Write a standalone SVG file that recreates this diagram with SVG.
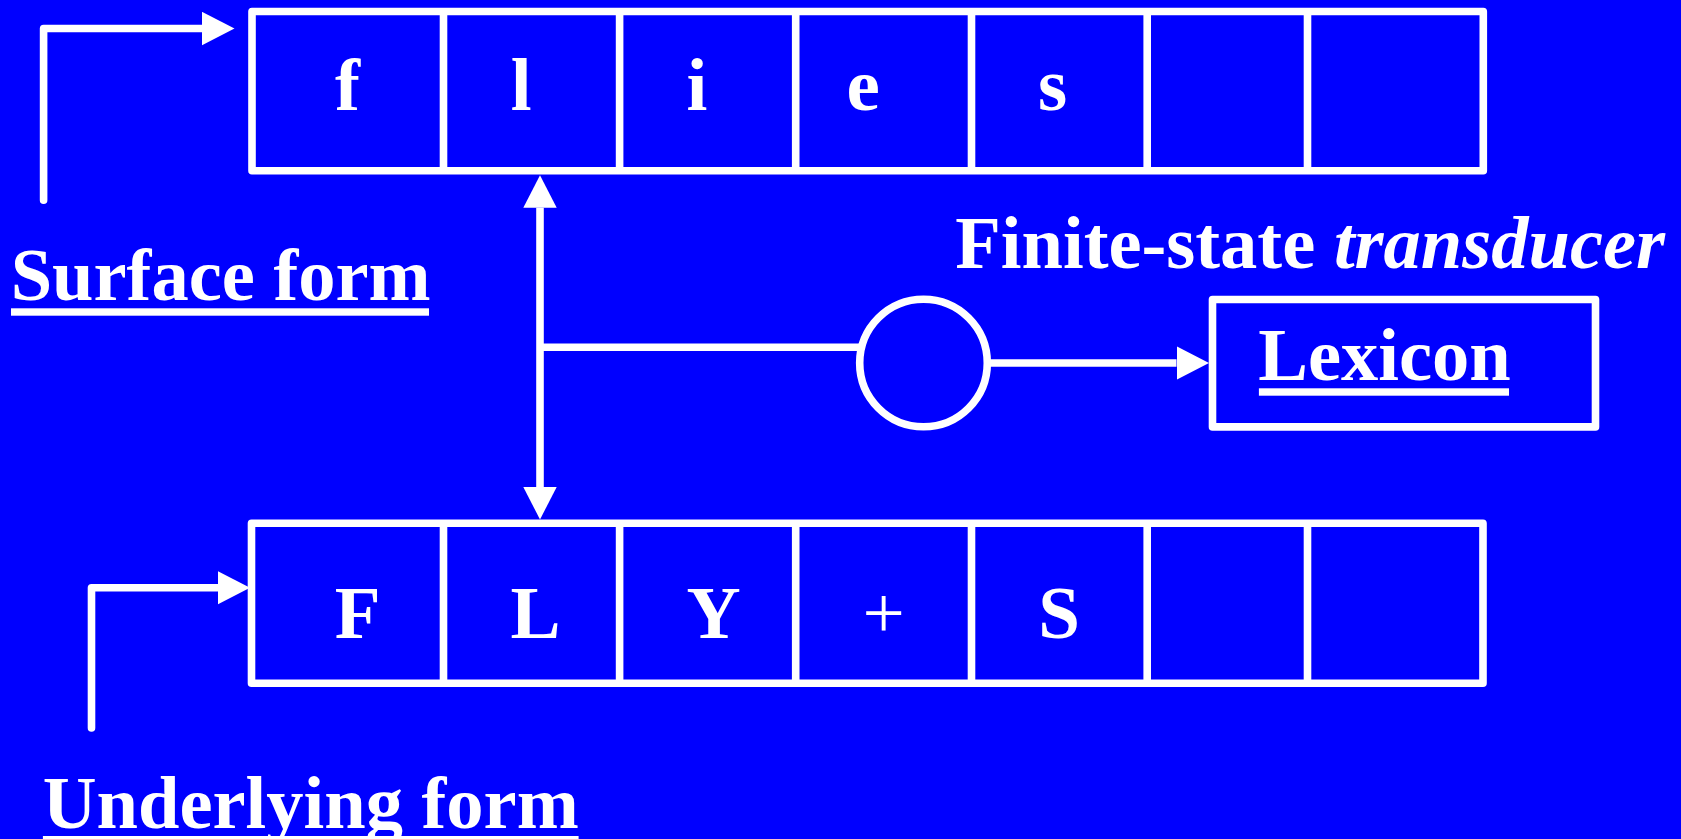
<svg xmlns="http://www.w3.org/2000/svg" width="1681" height="839" viewBox="0 0 1681 839">
  <style>
    .frame { fill: none; stroke: #ffffff; stroke-width: 7.6; stroke-linejoin: round; }
    .div { stroke: #ffffff; stroke-width: 7.6; }
    .wire { fill: none; stroke: #ffffff; stroke-width: 7.6; stroke-linejoin: round; }
    .cell { font-family: "Liberation Serif", "Times New Roman", serif; font-size: 75px; font-weight: bold; fill: #ffffff; }
    .plain { font-family: "Liberation Serif", "Times New Roman", serif; font-size: 75px; font-weight: normal; fill: #ffffff; }
    .label { font-family: "Liberation Serif", "Times New Roman", serif; font-size: 74.5px; font-weight: bold; fill: #ffffff; }
    .ul { fill: #ffffff; }
  </style>
  <defs>
    <marker id="head" markerUnits="userSpaceOnUse" markerWidth="34" markerHeight="36" refX="0" refY="16.7" orient="auto-start-reverse">
      <path d="M0,0 L32.5,16.7 L0,33.4 Z" fill="#ffffff"/>
    </marker>
  </defs>

  <rect x="0" y="0" width="1681" height="839" fill="#0000ff"/>

  <!-- upper tape: surface characters -->
  <g id="surface-tape">
    <rect class="frame" x="252" y="11.5" width="1231.3" height="159.2"/>
    <line class="div" x1="443.5" y1="11.5" x2="443.5" y2="170.7"/>
    <line class="div" x1="619.6" y1="11.5" x2="619.6" y2="170.7"/>
    <line class="div" x1="795.7" y1="11.5" x2="795.7" y2="170.7"/>
    <line class="div" x1="971.5" y1="11.5" x2="971.5" y2="170.7"/>
    <line class="div" x1="1147.2" y1="11.5" x2="1147.2" y2="170.7"/>
    <line class="div" x1="1307.5" y1="11.5" x2="1307.5" y2="170.7"/>
    <text class="cell" x="335" y="110">f</text>
    <text class="cell" x="510.8" y="110">l</text>
    <text class="cell" x="686.5" y="110">i</text>
    <text class="cell" x="846.5" y="110">e</text>
    <text class="cell" x="1038" y="110">s</text>
  </g>

  <!-- lower tape: underlying characters -->
  <g id="underlying-tape">
    <rect class="frame" x="251.5" y="523.3" width="1231.5" height="160"/>
    <line class="div" x1="443.5" y1="523.3" x2="443.5" y2="683.3"/>
    <line class="div" x1="619.6" y1="523.3" x2="619.6" y2="683.3"/>
    <line class="div" x1="795.7" y1="523.3" x2="795.7" y2="683.3"/>
    <line class="div" x1="971.5" y1="523.3" x2="971.5" y2="683.3"/>
    <line class="div" x1="1147.2" y1="523.3" x2="1147.2" y2="683.3"/>
    <line class="div" x1="1307.5" y1="523.3" x2="1307.5" y2="683.3"/>
    <text class="cell" x="334.8" y="638">F</text>
    <text class="cell" x="510.6" y="638">L</text>
    <text class="cell" x="686.6" y="638">Y</text>
    <text class="plain" x="862.5" y="638">+</text>
    <text class="cell" x="1038.2" y="638">S</text>
  </g>

  <!-- transducer state -->
  <g id="transducer">
    <circle cx="923.5" cy="363" r="63.8" fill="none" stroke="#ffffff" stroke-width="7.6"/>
    <text class="label" x="955.3" y="268">Finite-state <tspan font-style="italic">transducer</tspan></text>
  </g>

  <!-- lexicon box -->
  <g id="lexicon">
    <rect class="frame" x="1212.5" y="299.5" width="383" height="127.4"/>
    <text class="label" x="1258.3" y="380">Lexicon</text>
    <rect class="ul" x="1258.9" y="388.3" width="250.1" height="7.4"/>
  </g>

  <!-- tape labels -->
  <g id="surface-label">
    <text class="label" x="10.7" y="300">Surface form</text>
    <rect class="ul" x="11" y="308.3" width="418" height="7.4"/>
  </g>
  <g id="underlying-label">
    <text class="label" x="42.8" y="827.5">Underlying form</text>
    <rect class="ul" x="42.9" y="836" width="535.7" height="7.4"/>
  </g>

  <!-- connectors -->
  <g id="connectors">
    <!-- surface label pointer into upper tape -->
    <path class="wire" stroke-linecap="round" d="M43.6,200.3 L43.6,28.5 L202,28.5" marker-end="url(#head)"/>
    <!-- underlying label pointer into lower tape -->
    <path class="wire" stroke-linecap="round" d="M91.5,728 L91.5,587.8 L217.5,587.8" marker-end="url(#head)"/>
    <!-- read/write link between the two tapes -->
    <line class="wire" x1="540" y1="207.7" x2="540" y2="487" marker-start="url(#head)" marker-end="url(#head)"/>
    <!-- tape link to the state -->
    <line class="wire" x1="540" y1="347.3" x2="860.5" y2="347.3"/>
    <!-- state to lexicon -->
    <line class="wire" x1="987.3" y1="363" x2="1176.5" y2="363" marker-end="url(#head)"/>
  </g>
</svg>
